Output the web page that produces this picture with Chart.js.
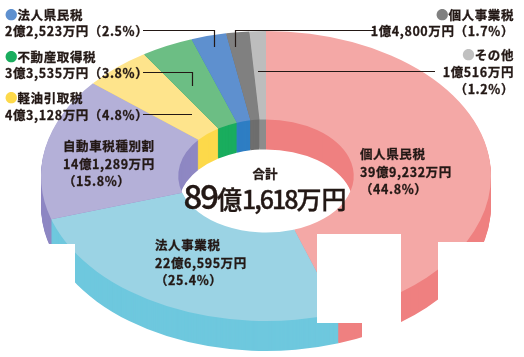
<!DOCTYPE html>
<html lang="ja">
<head>
<meta charset="utf-8">
<script src="https://cdn.jsdelivr.net/npm/chart.js@4.4.1/dist/chart.umd.min.js"></script>
<style>
  html, body { margin: 0; padding: 0; background: #fff; }
  #wrap { position: relative; width: 524px; height: 357px; overflow: hidden; }
  #c { position: absolute; left: 0; top: 0; }
  .lbl {
    position: absolute;
    font-family: "Noto Sans CJK JP", sans-serif;
    font-weight: 700;
    font-size: 12.5px;
    line-height: 17.5px;
    color: #231815;
    letter-spacing: 0.6px;
    white-space: nowrap;
    -webkit-text-stroke: 0.3px #231815;
  }
  .right { text-align: right; }
  .dot { letter-spacing: 0; -webkit-text-stroke: 0; }
  #total { position: absolute; left: 0; width: 530px; text-align: center; font-family: "Noto Sans CJK JP", sans-serif; color: #231815; white-space: nowrap; }
  #total .t1 { font-size: 12.5px; font-weight: 700; line-height: 16px; -webkit-text-stroke: 0.3px #231815; }
  #total .t2 { line-height: 26px; font-weight: 500; -webkit-text-stroke: 0.4px #231815; }
  #total .big { font-size: 33px; letter-spacing: -2px; }
  #total .mid { font-size: 25px; }
  #total .num { font-size: 25px; letter-spacing: -2px; }
</style>
</head>
<body>
<div id="wrap">
  <canvas id="c" width="524" height="357"></canvas>
</div>
<script>
// 県税収入の内訳（単位：万円）
var categories = ['個人県民税', '法人事業税', '自動車税種別割', '軽油引取税', '不動産取得税', '法人県民税', '個人事業税', 'その他'];
var amounts = [399232, 226595, 141289, 43128, 33535, 22523, 14800, 10516];
var shares = [44.8, 25.4, 15.8, 4.8, 3.8, 2.5, 1.7, 1.2];
var topColors = ['#f4a8a6', '#9bd3e4', '#b4b0d8', '#fee48c', '#6cbe84', '#5e90cf', '#808080', '#bdbdbd'];
var sideColors = ['#ef8080', '#6ec8de', '#8e87c3', '#fdd94b', '#1aad5e', '#2e7ec3', '#6e6e6e', '#8c8c8c'];
var dotColors = ['#ef8080', '#6ec8de', '#8e87c3', '#fdd94a', '#1aad5e', '#5e90cf', '#808080', '#c0c0c0'];

function yen(v) {
    var oku = Math.floor(v / 10000);
    var man = v % 10000;
    return oku + '億' + man.toLocaleString('en-US') + '万円';
}

// ellipse geometry of the 3D ring
var CX = 266, CY = 176, RX = 225, RY = 145, DEPTH = 30;

var ringPlugin = {
    id: 'ring3d',
    beforeDatasetsDraw: function(chart) {
        var ctx = chart.ctx;
        var meta = chart.getDatasetMeta(0);
        var R = meta.data[0].outerRadius;
        var sx = RX / R, sy = RY / R;
        for (var t = DEPTH; t >= 0; t--) {
            meta.data.forEach(function(arc, i) {
                var p = arc.getProps(['startAngle', 'endAngle', 'innerRadius', 'outerRadius']);
                ctx.save();
                ctx.translate(CX, CY + t);
                ctx.scale(sx, sy);
                ctx.beginPath();
                ctx.arc(0, 0, p.outerRadius, p.startAngle, p.endAngle);
                ctx.arc(0, 0, p.innerRadius, p.endAngle, p.startAngle, true);
                ctx.closePath();
                ctx.fillStyle = t === 0 ? topColors[i] : sideColors[i];
                ctx.fill();
                ctx.restore();
            });
        }
        return false;
    },
    afterDraw: function(chart) {
        var ctx = chart.ctx;
        // white patches on the original
        ctx.fillStyle = '#fff';
        ctx.fillRect(38, 244, 37, 42);
        ctx.fillRect(317, 234, 84, 89);
        ctx.fillRect(362, 323, 80, 34);
        ctx.fillRect(438, 242, 86, 115);

        // leader lines
        ctx.strokeStyle = '#231815';
        ctx.lineWidth = 1.2;
        var lines = [
            [[143, 30.5], [214.5, 30.5], [214.5, 47]],
            [[375, 30.5], [235.5, 30.5], [235.5, 47]],
            [[435, 71.5], [258, 71.5]],
            [[143, 72.5], [192.5, 72.5], [192.5, 86]],
            [[143, 114.5], [192, 114.5]]
        ];
        lines.forEach(function(l) {
            ctx.beginPath();
            ctx.moveTo(l[0][0], l[0][1]);
            for (var k = 1; k < l.length; k++) ctx.lineTo(l[k][0], l[k][1]);
            ctx.stroke();
        });
    }
};

new Chart(document.getElementById('c'), {
    type: 'doughnut',
    data: {
        labels: categories,
        datasets: [{
            data: amounts,
            backgroundColor: topColors,
            borderWidth: 0
        }]
    },
    options: {
        responsive: false,
        animation: false,
        cutout: '39%',
        plugins: {
            legend: { display: false },
            tooltip: { enabled: false }
        }
    },
    plugins: [ringPlugin]
});

// text labels
var wrap = document.getElementById('wrap');
function addLabel(html, css, cls) {
    var d = document.createElement('div');
    d.className = 'lbl' + (cls ? ' ' + cls : '');
    d.innerHTML = html;
    for (var k in css) d.style[k] = css[k];
    wrap.appendChild(d);
}
function dot(i) {
    return '<span class="dot" style="color:' + dotColors[i] + '">●</span>';
}
function pct(i) {
    return '（' + shares[i].toFixed(1) + '%）';
}

// inside labels
addLabel(categories[0] + '<br>' + yen(amounts[0]) + '<br>' + pct(0), { left: '360px', top: '145px' });
addLabel(categories[1] + '<br>' + yen(amounts[1]) + '<br>' + pct(1), { left: '155px', top: '236px' });
addLabel(categories[2] + '<br>' + yen(amounts[2]) + '<br>' + pct(2), { left: '63px', top: '137px' });

// outside labels, left
addLabel(dot(5) + categories[5] + '<br>' + yen(amounts[5]) + pct(5), { left: '5px', top: '7px', lineHeight: '16px' });
addLabel(dot(4) + categories[4] + '<br>' + yen(amounts[4]) + pct(4), { left: '5px', top: '49px', lineHeight: '16px' });
addLabel(dot(3) + categories[3] + '<br>' + yen(amounts[3]) + pct(3), { left: '5px', top: '89px', lineHeight: '17px' });

// outside labels, right
addLabel(dot(6) + categories[6] + '<br>' + yen(amounts[6]) + pct(6), { right: '10px', top: '7px', lineHeight: '16px' }, 'right');
addLabel(dot(7) + categories[7] + '<br>' + yen(amounts[7]) + '<br>' + pct(7), { right: '10px', top: '46px', lineHeight: '17px' }, 'right');

// total in the hole
var total = amounts.reduce(function(a, b) { return a + b; }, 0);
var oku = Math.floor(total / 10000);
var man = (total % 10000).toLocaleString('en-US');
var tot = document.createElement('div');
tot.id = 'total';
tot.style.top = '166px';
tot.innerHTML = '<div class="t1">合計</div><div class="t2"><span class="big">' + oku + '</span><span class="mid">億</span><span class="num">' + man + '</span><span class="mid">万円</span></div>';
wrap.appendChild(tot);
</script>
</body>
</html>
